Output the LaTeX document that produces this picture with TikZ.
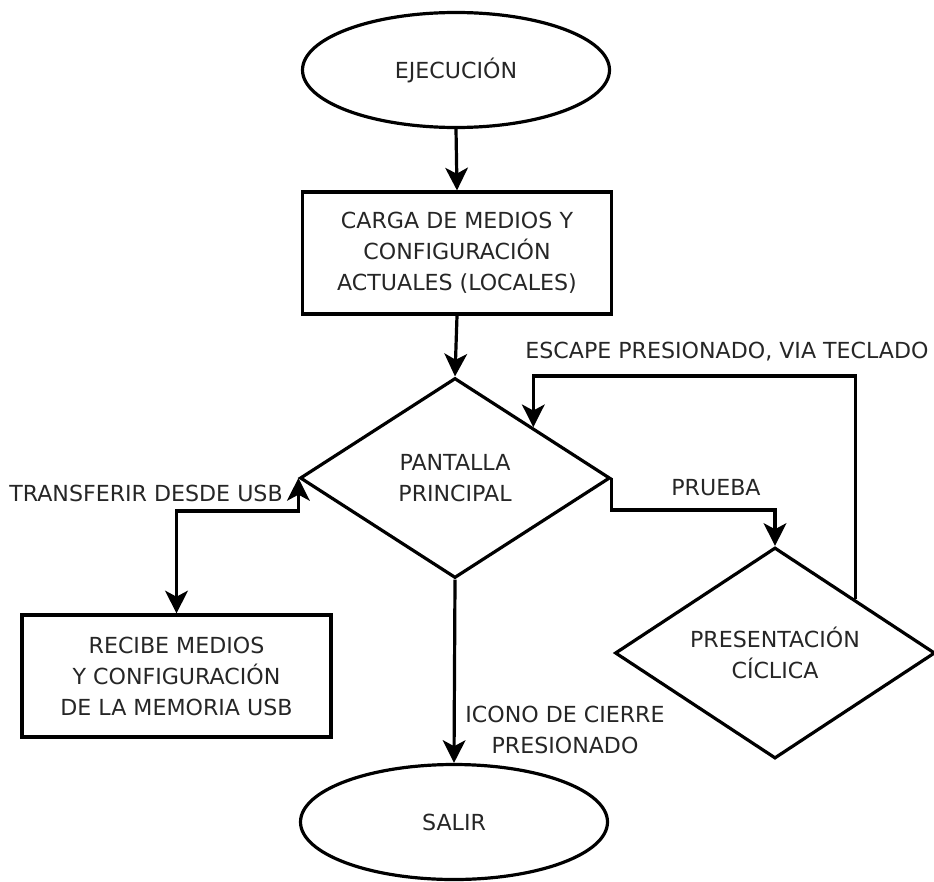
\documentclass[tikz,border=0pt]{standalone}
\usepackage{fontspec}
\setmainfont{DejaVu Sans}
\usetikzlibrary{shapes.geometric,arrows.meta}
\begin{document}
\begin{tikzpicture}[x=0.75pt,y=-0.75pt]
% size of one pixel
\def\px{0.75pt}
% node style definition
\tikzstyle{texto} = [font=\fontsize{16.6}{23.3}\selectfont, text=black!85, align=center];
\tikzstyle{caja} = [texto, draw, line width=2.4pt, rectangle,
	minimum width=309*\px, minimum height=122*\px];
\tikzstyle{ovalo} = [texto, draw, line width=2.4pt, ellipse,
	minimum width=307*\px, minimum height=115*\px];
\tikzstyle{rombo} = [texto, draw, line width=2.4pt, diamond, aspect=1.5, inner sep=0pt];
\tikzstyle{plain} = [texto, draw=none, fill=none];
\tikzstyle{flecha} = [line width=2.4pt, -{Stealth[length=17pt,width=17pt,inset=4.5pt]}];
\useasboundingbox (0,0) rectangle (934,881);

\node[ovalo] (ejec) at (456,70) {EJECUCIÓN};
\node[caja] (carga) at (457,253) {CARGA DE MEDIOS Y\\CONFIGURACIÓN\\ACTUALES (LOCALES)};
\node[rombo, minimum width=310*\px, minimum height=200*\px] (pant) at (455,478) {PANTALLA\\PRINCIPAL};
\node[caja] (recibe) at (176.5,676) {RECIBE MEDIOS\\Y CONFIGURACIÓN\\DE LA MEMORIA USB};
\node[rombo, minimum width=320*\px, minimum height=211*\px] (pres) at (775,653) {PRESENTACIÓN\\CÍCLICA};
\node[ovalo] (salir) at (454,822) {SALIR};

% labels
\node[plain] (lblusb) at (146,493) {TRANSFERIR DESDE USB};
\node[plain] (lblprueba) at (716,488) {PRUEBA};
\node[plain] (lblescape) at (727,352) {ESCAPE PRESIONADO, VIA TECLADO};
\node[plain] (lblicono) at (565,730) {ICONO DE CIERRE\\PRESIONADO};

% connectors
\draw[flecha] (ejec.south) -- (carga.north);
\draw[flecha] (carga.south) -- (pant.north);
\draw[flecha] (pant.south) -- (salir.north);
\draw[flecha, {Stealth[length=17pt,width=17pt,inset=4.5pt]}-{Stealth[length=17pt,width=17pt,inset=4.5pt]}]
	(pant.west) -- ++(0,33) -| (recibe.north);
\draw[flecha] (pant.east) -- ++(0,32) -| (pres.north);
\draw[flecha] (pres.north east) -- (pres.north east |- 0,376) -| (pant.north east);
\end{tikzpicture}
\end{document}
